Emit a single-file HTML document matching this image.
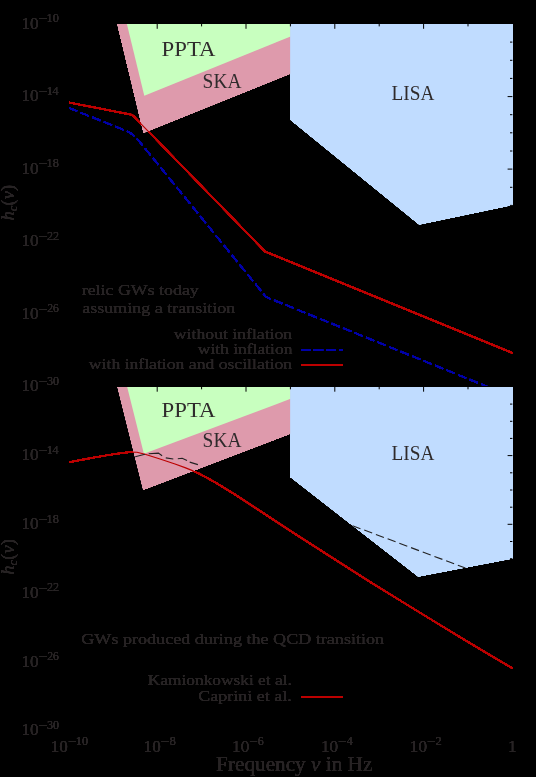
<!DOCTYPE html>
<html><head><meta charset="utf-8"><title>GW spectra</title>
<style>
html,body{margin:0;padding:0;background:#000;}
svg{display:block;}
text{font-family:"Liberation Serif",serif;fill:#272324;}
.i{font-style:italic;}
.lab{fill:#2f2b2c;}
</style></head><body>
<svg width="536" height="777" viewBox="0 0 536 777">
<defs>
<clipPath id="c1"><rect x="69.1" y="24.0" width="443.3" height="361.7"/></clipPath>
<clipPath id="c2"><rect x="69.1" y="386.9" width="443.3" height="343.5"/></clipPath>
<filter id="hard" filterUnits="userSpaceOnUse" x="0" y="0" width="536" height="777" color-interpolation-filters="sRGB"><feComponentTransfer><feFuncA type="linear" slope="12.00" intercept="0"/></feComponentTransfer></filter>
<filter id="hardt" filterUnits="userSpaceOnUse" x="0" y="0" width="536" height="777" color-interpolation-filters="sRGB"><feComponentTransfer><feFuncA type="linear" slope="2.50" intercept="0"/></feComponentTransfer></filter>
</defs>
<rect x="0" y="0" width="536" height="777" fill="#000"/>
<g filter="url(#hard)">
<polyline points="68.4,107.7 118.2,127.6 128.0,131.7 132.0,134.2 136.1,138.0 140.0,142.2 265.9,296.9" fill="none" stroke="#0000a8" stroke-width="1.45" stroke-linejoin="round" clip-path="url(#c1)" stroke-dasharray="8.7 3.8" stroke-dashoffset="-0.7"/>
<polyline points="265.9,296.9 520.0,399.9" fill="none" stroke="#0000a8" stroke-width="1.45" stroke-linejoin="round" clip-path="url(#c1)" stroke-dasharray="8.65 3.76" stroke-dashoffset="3.55"/>
<polyline points="68.4,102.4 130.6,114.5 132.0,114.9 133.2,115.8 265.0,251.5 512.6,353.0" fill="none" stroke="#bc0000" stroke-width="1.45" stroke-linejoin="round" clip-path="url(#c1)"/>
<polyline points="68.4,462.3 90.0,458.2 109.3,454.9 122.0,453.0 131.0,452.0 137.0,452.3 145.0,454.2 160.0,459.0 175.0,464.0 185.0,467.6 193.1,470.9 198.7,473.5 208.0,478.3 217.3,483.6 226.6,489.4 236.0,495.2 254.6,507.3 273.3,519.6 291.9,531.8 329.3,555.8 370.0,581.8 401.0,601.0 431.9,620.0 462.9,638.8 493.9,657.3 512.6,668.3" fill="none" stroke="#bc0000" stroke-width="1.45" stroke-linejoin="round" clip-path="url(#c2)"/>
<line x1="301" y1="350" x2="343" y2="350" stroke="#0000a8" stroke-width="1.45" stroke-dasharray="9.4 3.3"/>
<line x1="301" y1="365" x2="343" y2="365" stroke="#bc0000" stroke-width="1.45"/>
<line x1="301" y1="697" x2="343" y2="697" stroke="#bc0000" stroke-width="1.45"/>
</g>
<g filter="url(#hardt)">
<text x="161.62" y="55.7" font-size="20.0" textLength="53.86" lengthAdjust="spacingAndGlyphs" class="lab">PPTA</text>
<text x="202.62" y="87.5" font-size="20.0" textLength="38.84" lengthAdjust="spacingAndGlyphs" class="lab">SKA</text>
<text x="391.49" y="100.2" font-size="20.0" textLength="42.81" lengthAdjust="spacingAndGlyphs" class="lab">LISA</text>
<text x="161.62" y="416.5" font-size="20.0" textLength="53.86" lengthAdjust="spacingAndGlyphs" class="lab">PPTA</text>
<text x="202.62" y="447.3" font-size="20.0" textLength="38.84" lengthAdjust="spacingAndGlyphs" class="lab">SKA</text>
<text x="391.49" y="459.6" font-size="20.0" textLength="42.81" lengthAdjust="spacingAndGlyphs" class="lab">LISA</text>
<text x="21.50" y="28.6" font-size="17.4" textLength="17.17" lengthAdjust="spacingAndGlyphs">10</text>
<text x="38.47" y="23.3" font-size="13.2" textLength="8.77" lengthAdjust="spacingAndGlyphs">−</text>
<text x="46.59" y="22.1" font-size="13.2" textLength="12.25" lengthAdjust="spacingAndGlyphs">10</text>
<text x="21.50" y="101.2" font-size="17.4" textLength="17.17" lengthAdjust="spacingAndGlyphs">10</text>
<text x="38.47" y="95.9" font-size="13.2" textLength="8.77" lengthAdjust="spacingAndGlyphs">−</text>
<text x="46.65" y="94.7" font-size="13.2" textLength="11.94" lengthAdjust="spacingAndGlyphs">14</text>
<text x="21.50" y="173.7" font-size="17.4" textLength="17.17" lengthAdjust="spacingAndGlyphs">10</text>
<text x="38.47" y="168.4" font-size="13.2" textLength="8.77" lengthAdjust="spacingAndGlyphs">−</text>
<text x="46.61" y="167.2" font-size="13.2" textLength="12.21" lengthAdjust="spacingAndGlyphs">18</text>
<text x="21.50" y="246.3" font-size="17.4" textLength="17.17" lengthAdjust="spacingAndGlyphs">10</text>
<text x="38.47" y="241.0" font-size="13.2" textLength="8.77" lengthAdjust="spacingAndGlyphs">−</text>
<text x="47.09" y="239.8" font-size="13.2" textLength="12.03" lengthAdjust="spacingAndGlyphs">22</text>
<text x="21.50" y="318.8" font-size="17.4" textLength="17.17" lengthAdjust="spacingAndGlyphs">10</text>
<text x="38.47" y="313.5" font-size="13.2" textLength="8.77" lengthAdjust="spacingAndGlyphs">−</text>
<text x="47.16" y="312.3" font-size="13.2" textLength="11.65" lengthAdjust="spacingAndGlyphs">26</text>
<text x="21.50" y="391.4" font-size="17.4" textLength="17.17" lengthAdjust="spacingAndGlyphs">10</text>
<text x="38.47" y="386.1" font-size="13.2" textLength="8.77" lengthAdjust="spacingAndGlyphs">−</text>
<text x="47.05" y="384.9" font-size="13.2" textLength="12.14" lengthAdjust="spacingAndGlyphs">30</text>
<text x="21.50" y="460.3" font-size="17.4" textLength="17.17" lengthAdjust="spacingAndGlyphs">10</text>
<text x="38.47" y="455.0" font-size="13.2" textLength="8.77" lengthAdjust="spacingAndGlyphs">−</text>
<text x="46.65" y="453.8" font-size="13.2" textLength="11.94" lengthAdjust="spacingAndGlyphs">14</text>
<text x="21.50" y="529.0" font-size="17.4" textLength="17.17" lengthAdjust="spacingAndGlyphs">10</text>
<text x="38.47" y="523.7" font-size="13.2" textLength="8.77" lengthAdjust="spacingAndGlyphs">−</text>
<text x="46.61" y="522.5" font-size="13.2" textLength="12.21" lengthAdjust="spacingAndGlyphs">18</text>
<text x="21.50" y="597.8" font-size="17.4" textLength="17.17" lengthAdjust="spacingAndGlyphs">10</text>
<text x="38.47" y="592.5" font-size="13.2" textLength="8.77" lengthAdjust="spacingAndGlyphs">−</text>
<text x="47.09" y="591.3" font-size="13.2" textLength="12.03" lengthAdjust="spacingAndGlyphs">22</text>
<text x="21.50" y="666.5" font-size="17.4" textLength="17.17" lengthAdjust="spacingAndGlyphs">10</text>
<text x="38.47" y="661.2" font-size="13.2" textLength="8.77" lengthAdjust="spacingAndGlyphs">−</text>
<text x="47.16" y="660.0" font-size="13.2" textLength="11.65" lengthAdjust="spacingAndGlyphs">26</text>
<text x="21.50" y="735.2" font-size="17.4" textLength="17.17" lengthAdjust="spacingAndGlyphs">10</text>
<text x="38.47" y="729.9" font-size="13.2" textLength="8.77" lengthAdjust="spacingAndGlyphs">−</text>
<text x="47.05" y="728.7" font-size="13.2" textLength="12.14" lengthAdjust="spacingAndGlyphs">30</text>
<text x="50.70" y="751.5" font-size="17.4" textLength="17.17" lengthAdjust="spacingAndGlyphs">10</text>
<text x="67.67" y="746.2" font-size="13.2" textLength="8.77" lengthAdjust="spacingAndGlyphs">−</text>
<text x="75.79" y="745.0" font-size="13.2" textLength="12.25" lengthAdjust="spacingAndGlyphs">10</text>
<text x="143.60" y="751.5" font-size="17.4" textLength="17.17" lengthAdjust="spacingAndGlyphs">10</text>
<text x="160.57" y="746.2" font-size="13.2" textLength="8.77" lengthAdjust="spacingAndGlyphs">−</text>
<text x="169.42" y="745.0" font-size="13.2" textLength="6.34" lengthAdjust="spacingAndGlyphs">8</text>
<text x="232.10" y="751.5" font-size="17.4" textLength="17.17" lengthAdjust="spacingAndGlyphs">10</text>
<text x="249.07" y="746.2" font-size="13.2" textLength="8.77" lengthAdjust="spacingAndGlyphs">−</text>
<text x="257.71" y="745.0" font-size="13.2" textLength="5.97" lengthAdjust="spacingAndGlyphs">6</text>
<text x="320.90" y="751.5" font-size="17.4" textLength="17.17" lengthAdjust="spacingAndGlyphs">10</text>
<text x="337.87" y="746.2" font-size="13.2" textLength="8.77" lengthAdjust="spacingAndGlyphs">−</text>
<text x="346.78" y="745.0" font-size="13.2" textLength="5.85" lengthAdjust="spacingAndGlyphs">4</text>
<text x="409.80" y="751.5" font-size="17.4" textLength="17.17" lengthAdjust="spacingAndGlyphs">10</text>
<text x="426.77" y="746.2" font-size="13.2" textLength="8.77" lengthAdjust="spacingAndGlyphs">−</text>
<text x="435.42" y="745.0" font-size="13.2" textLength="6.28" lengthAdjust="spacingAndGlyphs">2</text>
<text x="507.98" y="751.5" font-size="17.4" textLength="8.60" lengthAdjust="spacingAndGlyphs">1</text>
<text x="81.72" y="295.0" font-size="15.3" textLength="117.05" lengthAdjust="spacingAndGlyphs">relic GWs today</text>
<text x="82.36" y="312.8" font-size="15.3" textLength="152.83" lengthAdjust="spacingAndGlyphs">assuming a transition</text>
<text x="173.87" y="338.5" font-size="15.3" textLength="118.35" lengthAdjust="spacingAndGlyphs">without inflation</text>
<text x="197.88" y="354.0" font-size="15.3" textLength="94.54" lengthAdjust="spacingAndGlyphs">with inflation</text>
<text x="88.87" y="369.1" font-size="15.3" textLength="203.31" lengthAdjust="spacingAndGlyphs">with inflation and oscillation</text>
<text x="81.31" y="644.0" font-size="15.3" textLength="302.79" lengthAdjust="spacingAndGlyphs">GWs produced during the QCD transition</text>
<text x="147.84" y="685.3" font-size="15.3" textLength="143.94" lengthAdjust="spacingAndGlyphs">Kamionkowski et al.</text>
<text x="198.33" y="700.7" font-size="15.3" textLength="93.39" lengthAdjust="spacingAndGlyphs">Caprini et al.</text>
<text x="216.08" y="770.5" font-size="20.2" textLength="156.32" lengthAdjust="spacingAndGlyphs">Frequency <tspan class="i">ν</tspan> in Hz</text>
<text transform="translate(14,202.7) rotate(-90)" font-size="18" text-anchor="middle" textLength="35.6" lengthAdjust="spacingAndGlyphs"><tspan class="i">h</tspan><tspan font-size="12.5" dy="2.5" class="i">c</tspan><tspan dy="-2.5">(</tspan><tspan class="i">ν</tspan>)</text>
<text transform="translate(14,556.9) rotate(-90)" font-size="18" text-anchor="middle" textLength="35.6" lengthAdjust="spacingAndGlyphs"><tspan class="i">h</tspan><tspan font-size="12.5" dy="2.5" class="i">c</tspan><tspan dy="-2.5">(</tspan><tspan class="i">ν</tspan>)</text>
</g>
<g filter="url(#hard)">
<polygon points="117.4,24.0 290.6,24.0 290.6,73.6 143.6,132.7" fill="#de9aac"/>
<polygon points="126.9,24.0 290.6,24.0 290.6,36.4 144.3,95.7" fill="#c8ffbf"/>
<polygon points="290.2,24.0 512.4,24.0 512.4,205.0 419.3,224.6 290.2,119.6" fill="#c0dcff"/>
<polygon points="117.6,386.9 290.6,386.9 290.6,433.6 143.3,489.7" fill="#de9aac"/>
<polygon points="127.2,386.9 290.6,386.9 290.6,398.8 143.9,453.7" fill="#c8ffbf"/>
<polygon points="290.2,386.9 512.4,386.9 512.4,558.5 418.3,576.6 290.2,476.8" fill="#c0dcff"/>
</g>
<g>
<polyline points="68.4,107.7 118.2,127.6 128.0,131.7 132.0,134.2 136.1,138.0 140.0,142.2 265.9,296.9" fill="none" stroke="#0000a8" stroke-width="1.15" stroke-linejoin="round" clip-path="url(#c1)" stroke-dasharray="8.7 3.8" stroke-dashoffset="-0.7"/>
<polyline points="265.9,296.9 520.0,399.9" fill="none" stroke="#0000a8" stroke-width="1.15" stroke-linejoin="round" clip-path="url(#c1)" stroke-dasharray="8.65 3.76" stroke-dashoffset="3.55"/>
<polyline points="68.4,102.4 130.6,114.5 132.0,114.9 133.2,115.8 265.0,251.5 512.6,353.0" fill="none" stroke="#bc0000" stroke-width="1.15" stroke-linejoin="round" clip-path="url(#c1)"/>
<polyline points="68.4,462.3 90.0,458.2 109.3,454.9 122.0,453.0 131.0,452.0 137.0,452.3 145.0,454.2 160.0,459.0 175.0,464.0 185.0,467.6 193.1,470.9 198.7,473.5 208.0,478.3 217.3,483.6 226.6,489.4 236.0,495.2 254.6,507.3 273.3,519.6 291.9,531.8 329.3,555.8 370.0,581.8 401.0,601.0 431.9,620.0 462.9,638.8 493.9,657.3 512.6,668.3" fill="none" stroke="#bc0000" stroke-width="1.15" stroke-linejoin="round" clip-path="url(#c2)"/>
<line x1="301" y1="350" x2="343" y2="350" stroke="#0000a8" stroke-width="1.15" stroke-dasharray="9.4 3.3"/>
<line x1="301" y1="365" x2="343" y2="365" stroke="#bc0000" stroke-width="1.15"/>
<line x1="301" y1="697" x2="343" y2="697" stroke="#bc0000" stroke-width="1.15"/>
<text x="161.62" y="55.7" font-size="20.0" textLength="53.86" lengthAdjust="spacingAndGlyphs" class="lab">PPTA</text>
<text x="202.62" y="87.5" font-size="20.0" textLength="38.84" lengthAdjust="spacingAndGlyphs" class="lab">SKA</text>
<text x="391.49" y="100.2" font-size="20.0" textLength="42.81" lengthAdjust="spacingAndGlyphs" class="lab">LISA</text>
<text x="161.62" y="416.5" font-size="20.0" textLength="53.86" lengthAdjust="spacingAndGlyphs" class="lab">PPTA</text>
<text x="202.62" y="447.3" font-size="20.0" textLength="38.84" lengthAdjust="spacingAndGlyphs" class="lab">SKA</text>
<text x="391.49" y="459.6" font-size="20.0" textLength="42.81" lengthAdjust="spacingAndGlyphs" class="lab">LISA</text>
<text x="21.50" y="28.6" font-size="17.4" textLength="17.17" lengthAdjust="spacingAndGlyphs">10</text>
<text x="38.47" y="23.3" font-size="13.2" textLength="8.77" lengthAdjust="spacingAndGlyphs">−</text>
<text x="46.59" y="22.1" font-size="13.2" textLength="12.25" lengthAdjust="spacingAndGlyphs">10</text>
<text x="21.50" y="101.2" font-size="17.4" textLength="17.17" lengthAdjust="spacingAndGlyphs">10</text>
<text x="38.47" y="95.9" font-size="13.2" textLength="8.77" lengthAdjust="spacingAndGlyphs">−</text>
<text x="46.65" y="94.7" font-size="13.2" textLength="11.94" lengthAdjust="spacingAndGlyphs">14</text>
<text x="21.50" y="173.7" font-size="17.4" textLength="17.17" lengthAdjust="spacingAndGlyphs">10</text>
<text x="38.47" y="168.4" font-size="13.2" textLength="8.77" lengthAdjust="spacingAndGlyphs">−</text>
<text x="46.61" y="167.2" font-size="13.2" textLength="12.21" lengthAdjust="spacingAndGlyphs">18</text>
<text x="21.50" y="246.3" font-size="17.4" textLength="17.17" lengthAdjust="spacingAndGlyphs">10</text>
<text x="38.47" y="241.0" font-size="13.2" textLength="8.77" lengthAdjust="spacingAndGlyphs">−</text>
<text x="47.09" y="239.8" font-size="13.2" textLength="12.03" lengthAdjust="spacingAndGlyphs">22</text>
<text x="21.50" y="318.8" font-size="17.4" textLength="17.17" lengthAdjust="spacingAndGlyphs">10</text>
<text x="38.47" y="313.5" font-size="13.2" textLength="8.77" lengthAdjust="spacingAndGlyphs">−</text>
<text x="47.16" y="312.3" font-size="13.2" textLength="11.65" lengthAdjust="spacingAndGlyphs">26</text>
<text x="21.50" y="391.4" font-size="17.4" textLength="17.17" lengthAdjust="spacingAndGlyphs">10</text>
<text x="38.47" y="386.1" font-size="13.2" textLength="8.77" lengthAdjust="spacingAndGlyphs">−</text>
<text x="47.05" y="384.9" font-size="13.2" textLength="12.14" lengthAdjust="spacingAndGlyphs">30</text>
<text x="21.50" y="460.3" font-size="17.4" textLength="17.17" lengthAdjust="spacingAndGlyphs">10</text>
<text x="38.47" y="455.0" font-size="13.2" textLength="8.77" lengthAdjust="spacingAndGlyphs">−</text>
<text x="46.65" y="453.8" font-size="13.2" textLength="11.94" lengthAdjust="spacingAndGlyphs">14</text>
<text x="21.50" y="529.0" font-size="17.4" textLength="17.17" lengthAdjust="spacingAndGlyphs">10</text>
<text x="38.47" y="523.7" font-size="13.2" textLength="8.77" lengthAdjust="spacingAndGlyphs">−</text>
<text x="46.61" y="522.5" font-size="13.2" textLength="12.21" lengthAdjust="spacingAndGlyphs">18</text>
<text x="21.50" y="597.8" font-size="17.4" textLength="17.17" lengthAdjust="spacingAndGlyphs">10</text>
<text x="38.47" y="592.5" font-size="13.2" textLength="8.77" lengthAdjust="spacingAndGlyphs">−</text>
<text x="47.09" y="591.3" font-size="13.2" textLength="12.03" lengthAdjust="spacingAndGlyphs">22</text>
<text x="21.50" y="666.5" font-size="17.4" textLength="17.17" lengthAdjust="spacingAndGlyphs">10</text>
<text x="38.47" y="661.2" font-size="13.2" textLength="8.77" lengthAdjust="spacingAndGlyphs">−</text>
<text x="47.16" y="660.0" font-size="13.2" textLength="11.65" lengthAdjust="spacingAndGlyphs">26</text>
<text x="21.50" y="735.2" font-size="17.4" textLength="17.17" lengthAdjust="spacingAndGlyphs">10</text>
<text x="38.47" y="729.9" font-size="13.2" textLength="8.77" lengthAdjust="spacingAndGlyphs">−</text>
<text x="47.05" y="728.7" font-size="13.2" textLength="12.14" lengthAdjust="spacingAndGlyphs">30</text>
<text x="50.70" y="751.5" font-size="17.4" textLength="17.17" lengthAdjust="spacingAndGlyphs">10</text>
<text x="67.67" y="746.2" font-size="13.2" textLength="8.77" lengthAdjust="spacingAndGlyphs">−</text>
<text x="75.79" y="745.0" font-size="13.2" textLength="12.25" lengthAdjust="spacingAndGlyphs">10</text>
<text x="143.60" y="751.5" font-size="17.4" textLength="17.17" lengthAdjust="spacingAndGlyphs">10</text>
<text x="160.57" y="746.2" font-size="13.2" textLength="8.77" lengthAdjust="spacingAndGlyphs">−</text>
<text x="169.42" y="745.0" font-size="13.2" textLength="6.34" lengthAdjust="spacingAndGlyphs">8</text>
<text x="232.10" y="751.5" font-size="17.4" textLength="17.17" lengthAdjust="spacingAndGlyphs">10</text>
<text x="249.07" y="746.2" font-size="13.2" textLength="8.77" lengthAdjust="spacingAndGlyphs">−</text>
<text x="257.71" y="745.0" font-size="13.2" textLength="5.97" lengthAdjust="spacingAndGlyphs">6</text>
<text x="320.90" y="751.5" font-size="17.4" textLength="17.17" lengthAdjust="spacingAndGlyphs">10</text>
<text x="337.87" y="746.2" font-size="13.2" textLength="8.77" lengthAdjust="spacingAndGlyphs">−</text>
<text x="346.78" y="745.0" font-size="13.2" textLength="5.85" lengthAdjust="spacingAndGlyphs">4</text>
<text x="409.80" y="751.5" font-size="17.4" textLength="17.17" lengthAdjust="spacingAndGlyphs">10</text>
<text x="426.77" y="746.2" font-size="13.2" textLength="8.77" lengthAdjust="spacingAndGlyphs">−</text>
<text x="435.42" y="745.0" font-size="13.2" textLength="6.28" lengthAdjust="spacingAndGlyphs">2</text>
<text x="507.98" y="751.5" font-size="17.4" textLength="8.60" lengthAdjust="spacingAndGlyphs">1</text>
<text x="81.72" y="295.0" font-size="15.3" textLength="117.05" lengthAdjust="spacingAndGlyphs">relic GWs today</text>
<text x="82.36" y="312.8" font-size="15.3" textLength="152.83" lengthAdjust="spacingAndGlyphs">assuming a transition</text>
<text x="173.87" y="338.5" font-size="15.3" textLength="118.35" lengthAdjust="spacingAndGlyphs">without inflation</text>
<text x="197.88" y="354.0" font-size="15.3" textLength="94.54" lengthAdjust="spacingAndGlyphs">with inflation</text>
<text x="88.87" y="369.1" font-size="15.3" textLength="203.31" lengthAdjust="spacingAndGlyphs">with inflation and oscillation</text>
<text x="81.31" y="644.0" font-size="15.3" textLength="302.79" lengthAdjust="spacingAndGlyphs">GWs produced during the QCD transition</text>
<text x="147.84" y="685.3" font-size="15.3" textLength="143.94" lengthAdjust="spacingAndGlyphs">Kamionkowski et al.</text>
<text x="198.33" y="700.7" font-size="15.3" textLength="93.39" lengthAdjust="spacingAndGlyphs">Caprini et al.</text>
<text x="216.08" y="770.5" font-size="20.2" textLength="156.32" lengthAdjust="spacingAndGlyphs">Frequency <tspan class="i">ν</tspan> in Hz</text>
<text transform="translate(14,202.7) rotate(-90)" font-size="18" text-anchor="middle" textLength="35.6" lengthAdjust="spacingAndGlyphs"><tspan class="i">h</tspan><tspan font-size="12.5" dy="2.5" class="i">c</tspan><tspan dy="-2.5">(</tspan><tspan class="i">ν</tspan>)</text>
<text transform="translate(14,556.9) rotate(-90)" font-size="18" text-anchor="middle" textLength="35.6" lengthAdjust="spacingAndGlyphs"><tspan class="i">h</tspan><tspan font-size="12.5" dy="2.5" class="i">c</tspan><tspan dy="-2.5">(</tspan><tspan class="i">ν</tspan>)</text>
</g>
<line x1="112.8" y1="24.0" x2="112.8" y2="26.4" stroke="#000" stroke-width="1"/>
<line x1="157.2" y1="24.0" x2="157.2" y2="28.8" stroke="#000" stroke-width="1"/>
<line x1="201.6" y1="24.0" x2="201.6" y2="26.4" stroke="#000" stroke-width="1"/>
<line x1="246.0" y1="24.0" x2="246.0" y2="28.8" stroke="#000" stroke-width="1"/>
<line x1="290.4" y1="24.0" x2="290.4" y2="26.4" stroke="#000" stroke-width="1"/>
<line x1="334.8" y1="24.0" x2="334.8" y2="28.8" stroke="#000" stroke-width="1"/>
<line x1="379.2" y1="24.0" x2="379.2" y2="26.4" stroke="#000" stroke-width="1"/>
<line x1="423.6" y1="24.0" x2="423.6" y2="28.8" stroke="#000" stroke-width="1"/>
<line x1="468.0" y1="24.0" x2="468.0" y2="26.4" stroke="#000" stroke-width="1"/>
<line x1="510.0" y1="42.1" x2="512.4" y2="42.1" stroke="#000" stroke-width="1"/>
<line x1="510.0" y1="60.3" x2="512.4" y2="60.3" stroke="#000" stroke-width="1"/>
<line x1="510.0" y1="78.4" x2="512.4" y2="78.4" stroke="#000" stroke-width="1"/>
<line x1="507.6" y1="96.6" x2="512.4" y2="96.6" stroke="#000" stroke-width="1"/>
<line x1="510.0" y1="114.7" x2="512.4" y2="114.7" stroke="#000" stroke-width="1"/>
<line x1="510.0" y1="132.8" x2="512.4" y2="132.8" stroke="#000" stroke-width="1"/>
<line x1="510.0" y1="151.0" x2="512.4" y2="151.0" stroke="#000" stroke-width="1"/>
<line x1="507.6" y1="169.1" x2="512.4" y2="169.1" stroke="#000" stroke-width="1"/>
<line x1="510.0" y1="187.3" x2="512.4" y2="187.3" stroke="#000" stroke-width="1"/>
<line x1="510.0" y1="205.4" x2="512.4" y2="205.4" stroke="#000" stroke-width="1"/>
<line x1="510.0" y1="223.5" x2="512.4" y2="223.5" stroke="#000" stroke-width="1"/>
<line x1="507.6" y1="241.7" x2="512.4" y2="241.7" stroke="#000" stroke-width="1"/>
<line x1="510.0" y1="259.8" x2="512.4" y2="259.8" stroke="#000" stroke-width="1"/>
<line x1="510.0" y1="278.0" x2="512.4" y2="278.0" stroke="#000" stroke-width="1"/>
<line x1="510.0" y1="296.1" x2="512.4" y2="296.1" stroke="#000" stroke-width="1"/>
<line x1="507.6" y1="314.2" x2="512.4" y2="314.2" stroke="#000" stroke-width="1"/>
<line x1="510.0" y1="332.4" x2="512.4" y2="332.4" stroke="#000" stroke-width="1"/>
<line x1="510.0" y1="350.5" x2="512.4" y2="350.5" stroke="#000" stroke-width="1"/>
<line x1="510.0" y1="368.7" x2="512.4" y2="368.7" stroke="#000" stroke-width="1"/>
<line x1="112.8" y1="386.9" x2="112.8" y2="389.3" stroke="#000" stroke-width="1"/>
<line x1="157.2" y1="386.9" x2="157.2" y2="391.7" stroke="#000" stroke-width="1"/>
<line x1="201.6" y1="386.9" x2="201.6" y2="389.3" stroke="#000" stroke-width="1"/>
<line x1="246.0" y1="386.9" x2="246.0" y2="391.7" stroke="#000" stroke-width="1"/>
<line x1="290.4" y1="386.9" x2="290.4" y2="389.3" stroke="#000" stroke-width="1"/>
<line x1="334.8" y1="386.9" x2="334.8" y2="391.7" stroke="#000" stroke-width="1"/>
<line x1="379.2" y1="386.9" x2="379.2" y2="389.3" stroke="#000" stroke-width="1"/>
<line x1="423.6" y1="386.9" x2="423.6" y2="391.7" stroke="#000" stroke-width="1"/>
<line x1="468.0" y1="386.9" x2="468.0" y2="389.3" stroke="#000" stroke-width="1"/>
<line x1="510.0" y1="404.1" x2="512.4" y2="404.1" stroke="#000" stroke-width="1"/>
<line x1="510.0" y1="421.3" x2="512.4" y2="421.3" stroke="#000" stroke-width="1"/>
<line x1="510.0" y1="438.4" x2="512.4" y2="438.4" stroke="#000" stroke-width="1"/>
<line x1="507.6" y1="455.6" x2="512.4" y2="455.6" stroke="#000" stroke-width="1"/>
<line x1="510.0" y1="472.8" x2="512.4" y2="472.8" stroke="#000" stroke-width="1"/>
<line x1="510.0" y1="490.0" x2="512.4" y2="490.0" stroke="#000" stroke-width="1"/>
<line x1="510.0" y1="507.2" x2="512.4" y2="507.2" stroke="#000" stroke-width="1"/>
<line x1="507.6" y1="524.3" x2="512.4" y2="524.3" stroke="#000" stroke-width="1"/>
<line x1="510.0" y1="541.5" x2="512.4" y2="541.5" stroke="#000" stroke-width="1"/>
<line x1="510.0" y1="558.7" x2="512.4" y2="558.7" stroke="#000" stroke-width="1"/>
<line x1="510.0" y1="575.9" x2="512.4" y2="575.9" stroke="#000" stroke-width="1"/>
<line x1="507.6" y1="593.1" x2="512.4" y2="593.1" stroke="#000" stroke-width="1"/>
<line x1="510.0" y1="610.2" x2="512.4" y2="610.2" stroke="#000" stroke-width="1"/>
<line x1="510.0" y1="627.4" x2="512.4" y2="627.4" stroke="#000" stroke-width="1"/>
<line x1="510.0" y1="644.6" x2="512.4" y2="644.6" stroke="#000" stroke-width="1"/>
<line x1="507.6" y1="661.8" x2="512.4" y2="661.8" stroke="#000" stroke-width="1"/>
<line x1="510.0" y1="679.0" x2="512.4" y2="679.0" stroke="#000" stroke-width="1"/>
<line x1="510.0" y1="696.1" x2="512.4" y2="696.1" stroke="#000" stroke-width="1"/>
<line x1="510.0" y1="713.3" x2="512.4" y2="713.3" stroke="#000" stroke-width="1"/>
<polyline points="135.2,456.7 144.9,454.2" fill="none" stroke="#222" stroke-width="1.1"/>
<polyline points="148.7,453.7 158.4,453.1 162.1,455.7" fill="none" stroke="#222" stroke-width="1.1"/>
<polyline points="165.8,457.9 173.3,459.0" fill="none" stroke="#222" stroke-width="1.1"/>
<polyline points="177.8,458.7 182.2,458.3 187.0,460.4" fill="none" stroke="#222" stroke-width="1.1"/>
<polyline points="189.7,462.1 197.9,464.6" fill="none" stroke="#222" stroke-width="1.1"/>
<line x1="352.5" y1="525.7" x2="465.4" y2="568.0" stroke="#222" stroke-width="1.1" stroke-dasharray="8.5 4"/>
</svg>
</body></html>
